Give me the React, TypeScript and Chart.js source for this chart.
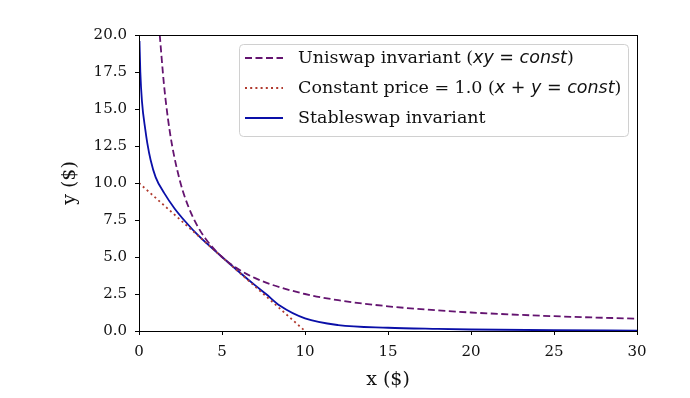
import React, { useEffect, useRef } from "react";
import { Chart, registerables } from "chart.js";
Chart.register(...registerables);

// Uniswap invariant (xy = const)
const uniX = [1.25, 1.5, 1.75, 2, 2.5, 3, 3.5, 4, 5, 6, 7, 8, 10, 12, 15, 18, 20, 25, 30];
const uniY = [20, 16.7, 14.3, 12.5, 10, 8.33, 7.14, 6.25, 5, 4.17, 3.57, 3.13, 2.5, 2.08, 1.67, 1.39, 1.25, 1.0, 0.83];

// Constant price = 1.0 (x + y = const)
const constX = [0, 10];
const constY = [10, 0];

// Stableswap invariant
const stableX = [0.03, 0.08, 0.18, 0.38, 0.5, 0.7, 1.0, 1.53, 2.13, 2.75, 3.6, 5, 6, 7, 7.65, 8.5, 10, 12, 15, 18, 20, 25, 30];
const stableY = [19.6, 17.5, 15.5, 13.6, 12.7, 11.55, 10.4, 9.3, 8.3, 7.45, 6.42, 5.0, 4.02, 3.08, 2.5, 1.7, 0.85, 0.4, 0.22, 0.14, 0.1, 0.05, 0.03];

const xTickValues = [0, 5, 10, 15, 20, 25, 30];
const yTickValues = [0, 2.5, 5, 7.5, 10, 12.5, 15, 17.5, 20];

const xTitle = "x ($)";
const yTitle = "y ($)";

const COLOR_UNI = "#641470";
const COLOR_CONST = "#b03a2e";
const COLOR_STABLE = "#0a0fa8";

const SERIF = "'DejaVu Serif', serif";
const SANS = "'DejaVu Sans', sans-serif";
const LF = 17.5;

const UNI_DASH = [7, 3.5];
const CONST_DASH = [2, 3.2];

const legendRows: { color: string; dash: number[]; parts: [string, string][] }[] = [
  {
    color: COLOR_UNI,
    dash: UNI_DASH,
    parts: [
      ["Uniswap invariant (", `${LF}px ${SERIF}`],
      ["xy", `italic ${LF}px ${SANS}`],
      [" = ", `${LF}px ${SANS}`],
      ["const", `italic ${LF}px ${SANS}`],
      [")", `${LF}px ${SERIF}`],
    ],
  },
  {
    color: COLOR_CONST,
    dash: CONST_DASH,
    parts: [
      ["Constant price = 1.0 (", `${LF}px ${SERIF}`],
      ["x", `italic ${LF}px ${SANS}`],
      [" + ", `${LF}px ${SANS}`],
      ["y", `italic ${LF}px ${SANS}`],
      [" = ", `${LF}px ${SANS}`],
      ["const", `italic ${LF}px ${SANS}`],
      [")", `${LF}px ${SERIF}`],
    ],
  },
  {
    color: COLOR_STABLE,
    dash: [],
    parts: [["Stableswap invariant", `${LF}px ${SERIF}`]],
  },
];

const framePlugin = {
  id: "frameAndLegend",
  afterDatasetsDraw(chart: any) {
    const { ctx, chartArea } = chart;
    const { left, top, right, bottom } = chartArea;
    ctx.save();
    ctx.strokeStyle = "#000";
    ctx.lineWidth = 1;
    ctx.strokeRect(Math.round(left) + 0.5, Math.round(top) + 0.5, Math.round(right - left), Math.round(bottom - top));

    // legend
    const bx = 239.5, by = 44.5, bw = 389, bh = 92, r = 4;
    ctx.beginPath();
    ctx.moveTo(bx + r, by);
    ctx.lineTo(bx + bw - r, by);
    ctx.quadraticCurveTo(bx + bw, by, bx + bw, by + r);
    ctx.lineTo(bx + bw, by + bh - r);
    ctx.quadraticCurveTo(bx + bw, by + bh, bx + bw - r, by + bh);
    ctx.lineTo(bx + r, by + bh);
    ctx.quadraticCurveTo(bx, by + bh, bx, by + bh - r);
    ctx.lineTo(bx, by + r);
    ctx.quadraticCurveTo(bx, by, bx + r, by);
    ctx.closePath();
    ctx.fillStyle = "rgba(255,255,255,0.85)";
    ctx.fill();
    ctx.strokeStyle = "#d0d0d0";
    ctx.stroke();

    const rowYs = [58, 88, 118];
    legendRows.forEach((row, i) => {
      const y = rowYs[i];
      ctx.beginPath();
      ctx.setLineDash(row.dash);
      ctx.strokeStyle = row.color;
      ctx.lineWidth = 1.8;
      ctx.moveTo(245, y);
      ctx.lineTo(283, y);
      ctx.stroke();
      ctx.setLineDash([]);
      let x = 298;
      ctx.fillStyle = "#111";
      ctx.textBaseline = "middle";
      ctx.textAlign = "left";
      for (const [text, font] of row.parts) {
        ctx.font = font;
        ctx.fillText(text, x, y);
        x += ctx.measureText(text).width;
      }
    });
    ctx.restore();
  },
};

export default function App() {
  const ref = useRef<HTMLCanvasElement>(null);
  useEffect(() => {
    document.body.style.margin = "0";
    const toPts = (xs: number[], ys: number[]) => xs.map((x, i) => ({ x, y: ys[i] }));
    const chart = new Chart(ref.current!, {
      type: "scatter",
      data: {
        datasets: [
          {
            label: "Uniswap invariant (xy = const)",
            data: toPts(uniX, uniY),
            showLine: true,
            borderColor: COLOR_UNI,
            borderWidth: 1.8,
            borderDash: UNI_DASH,
            pointRadius: 0,
            cubicInterpolationMode: "monotone",
          },
          {
            label: "Constant price = 1.0 (x + y = const)",
            data: toPts(constX, constY),
            showLine: true,
            borderColor: COLOR_CONST,
            borderWidth: 1.8,
            borderDash: CONST_DASH,
            pointRadius: 0,
          },
          {
            label: "Stableswap invariant",
            data: toPts(stableX, stableY),
            showLine: true,
            borderColor: COLOR_STABLE,
            borderWidth: 1.8,
            pointRadius: 0,
            cubicInterpolationMode: "monotone",
          },
        ],
      },
      options: {
        responsive: false,
        animation: false,
        layout: { padding: { left: 57, top: 35, right: 53, bottom: 4 } },
        plugins: { legend: { display: false }, tooltip: { enabled: false } },
        scales: {
          x: {
            type: "linear",
            min: 0,
            max: 30,
            afterFit: (s: any) => { s.height = 63; },
            afterBuildTicks: (s: any) => { s.ticks = xTickValues.map((v) => ({ value: v })); },
            ticks: {
              color: "#111",
              font: { family: SERIF, size: 15 },
              padding: 8,
              callback: (v: any) => String(v),
              maxRotation: 0,
            },
            grid: { drawOnChartArea: false, drawTicks: true, tickLength: 4, color: "#000" },
            border: { display: true, color: "#000" },
            title: { display: true, text: xTitle, color: "#111", font: { family: SERIF, size: 19 }, padding: { top: 4, bottom: 3 } },
          },
          y: {
            type: "linear",
            min: 0,
            max: 20,
            afterFit: (s: any) => { s.width = 82; },
            afterBuildTicks: (s: any) => { s.ticks = yTickValues.map((v) => ({ value: v })); },
            ticks: {
              color: "#111",
              font: { family: SERIF, size: 15 },
              padding: 8,
              callback: (v: any) => Number(v).toFixed(1),
            },
            grid: { drawOnChartArea: false, drawTicks: true, tickLength: 4, color: "#000" },
            border: { display: true, color: "#000" },
            title: { display: true, text: yTitle, color: "#111", font: { family: SERIF, size: 19 }, padding: { top: 2, bottom: 4 } },
          },
        },
      },
      plugins: [framePlugin],
    } as any);
    return () => chart.destroy();
  }, []);
  return (
    <div style={{ width: 690, height: 398 }}>
      <canvas ref={ref} width={690} height={398} />
    </div>
  );
}
